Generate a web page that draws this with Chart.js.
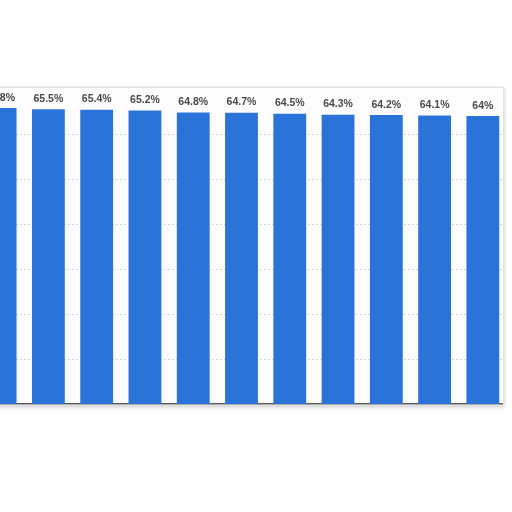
<!DOCTYPE html>
<html>
<head>
<meta charset="utf-8">
<script src="https://cdn.jsdelivr.net/npm/chart.js@4"></script>
<style>
  html, body { margin:0; padding:0; background:#fff; width:512px; height:512px; overflow:hidden; }
  .frame { position:absolute; left:-10px; top:87px; width:512px; height:317px; background:#fdfdfd;
           border:1px solid #e2e2e2; box-shadow:0 1px 4px rgba(0,0,0,0.22); }
  .wrap  { position:absolute; left:-24px; top:80px; width:531px; height:330px; }
  .clip  { position:absolute; left:0; top:0; width:503px; height:512px; overflow:hidden; }
</style>
</head>
<body>
<div class="frame"></div>
<div class="clip"><div class="wrap"><canvas id="bars"></canvas></div></div>
<script>
// values (first bar is cut off at the left edge)
const CATEGORIES = ['1','2','3','4','5','6','7','8','9','10','11'];
const SHARE      = [65.8, 65.5, 65.4, 65.2, 64.8, 64.7, 64.5, 64.3, 64.2, 64.1, 64];
const Y_TICKS    = [10, 20, 30, 40, 50, 60];

const BAR_COLOR = '#2a74d9';

// value labels on top of each bar
const topLabels = {
  id: 'topLabels',
  afterDatasetsDraw(chart) {
    const ctx = chart.ctx;
    const meta = chart.getDatasetMeta(0);
    ctx.save();
    ctx.font = 'bold 10.5px "Liberation Sans", Arial, sans-serif';
    ctx.fillStyle = '#4a4a4a';
    ctx.textAlign = 'center';
    ctx.textBaseline = 'bottom';
    meta.data.forEach((bar, i) => {
      ctx.fillText(SHARE[i] + '%', bar.x, bar.y - 5);
    });
    ctx.restore();
  }
};

new Chart(document.getElementById('bars'), {
  type: 'bar',
  data: {
    labels: CATEGORIES,
    datasets: [{ data: SHARE, backgroundColor: BAR_COLOR, borderWidth: 0,
                 barPercentage: 0.68, categoryPercentage: 1 }]
  },
  options: {
    responsive: true,
    maintainAspectRatio: false,
    animation: false,
    layout: { padding: { top: 9, bottom: 6, left: 0, right: 0 } },
    plugins: { legend: { display: false }, tooltip: { enabled: false } },
    scales: {
      x: {
        ticks: { display: false },
        grid: { display: false, drawTicks: false },
        border: { display: true, color: '#5a5a5a', width: 1.5 }
      },
      y: {
        min: 0, max: 70,
        afterBuildTicks: axis => { axis.ticks = Y_TICKS.map(v => ({ value: v })); },
        ticks: { display: false },
        grid: { drawTicks: false, color: '#d8d8d8', lineWidth: 1 },
        border: { display: false, dash: [2, 2] }
      }
    }
  },
  plugins: [topLabels]
});
</script>
</body>
</html>
